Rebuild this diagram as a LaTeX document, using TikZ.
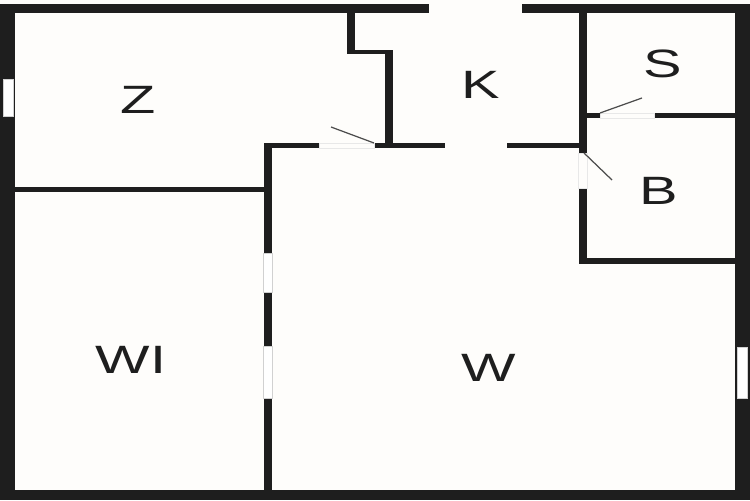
\documentclass[tikz,border=0pt]{standalone}
\usepackage{fontspec}
\setmainfont{Liberation Sans}
\definecolor{planwall}{rgb}{0.118, 0.118, 0.118}
\definecolor{planfloor}{rgb}{0.996, 0.992, 0.984}
\definecolor{plansill}{rgb}{0.82, 0.82, 0.82}
\definecolor{planleaf}{rgb}{0.3, 0.3, 0.3}
\tikzset{wall/.style={fill=planwall}}
\tikzset{pane/.style={fill=white, draw=plansill, line width=0.4pt}}
\tikzset{opening/.style={fill=planfloor, draw=plansill!50!white, line width=0.4pt}}
\tikzset{leaf/.style={line width=0.7pt, color=planleaf}}
\tikzset{room/.style={font=\fontsize{22.5}{24}\selectfont, text=planwall, inner sep=0pt, xscale=1.46}}

\begin{document}
\begin{tikzpicture}[x=0.02cm, y=-0.02cm]
        \useasboundingbox (0, 0) rectangle (750, 500);
        \fill[planfloor] (0, 0) rectangle (750, 500);

        % outer walls
        \fill[wall] (0, 4) rectangle (429, 13);
        \fill[wall] (522, 4) rectangle (750, 13);
        \fill[wall] (0, 4) rectangle (15, 500);
        \fill[wall] (735, 4) rectangle (750, 500);
        \fill[wall] (0, 490) rectangle (750, 500);

        % inner walls
        \fill[wall] (15, 187) rectangle (266, 192);
        \fill[wall] (264, 143) rectangle (272, 490);
        \fill[wall] (264, 143) rectangle (319, 148);
        \fill[wall] (374, 143) rectangle (445, 148);
        \fill[wall] (507, 143) rectangle (587, 148);
        \fill[wall] (347, 13) rectangle (355, 54);
        \fill[wall] (347, 50) rectangle (393, 54);
        \fill[wall] (385, 50) rectangle (393, 148);
        \fill[wall] (579, 13) rectangle (587, 153);
        \fill[wall] (579, 188) rectangle (587, 264);
        \fill[wall] (579, 258) rectangle (735, 264);
        \fill[wall] (587, 113) rectangle (600, 118);
        \fill[wall] (654, 113) rectangle (735, 118);

        % windows
        \filldraw[pane] (3, 79) rectangle (13, 116);
        \filldraw[pane] (737, 347) rectangle (747, 398);
        \filldraw[pane] (263, 253) rectangle (272, 292);
        \filldraw[pane] (263, 346) rectangle (272, 398);

        % doors
        \filldraw[opening] (319, 143.5) rectangle (374, 148);
        \filldraw[opening] (600, 113.5) rectangle (654, 118);
        \filldraw[opening] (578, 153) rectangle (587, 188);
        \draw[leaf] (374, 143) -- (331, 127);
        \draw[leaf] (600, 113) -- (642, 98);
        \draw[leaf] (584, 153) -- (612, 180);

        \node[room] (Rz) at (138, 99.5) {Z};
        \node[room] (Rk) at (481, 85) {K};
        \node[room] (Rs) at (663, 63.5) {S};
        \node[room] (Rb) at (659, 191) {B};
        \node[room] (Rwi) at (131, 359.5) {WI};
        \node[room] (Rw) at (489, 368) {W};

    \end{tikzpicture}
\end{document}
